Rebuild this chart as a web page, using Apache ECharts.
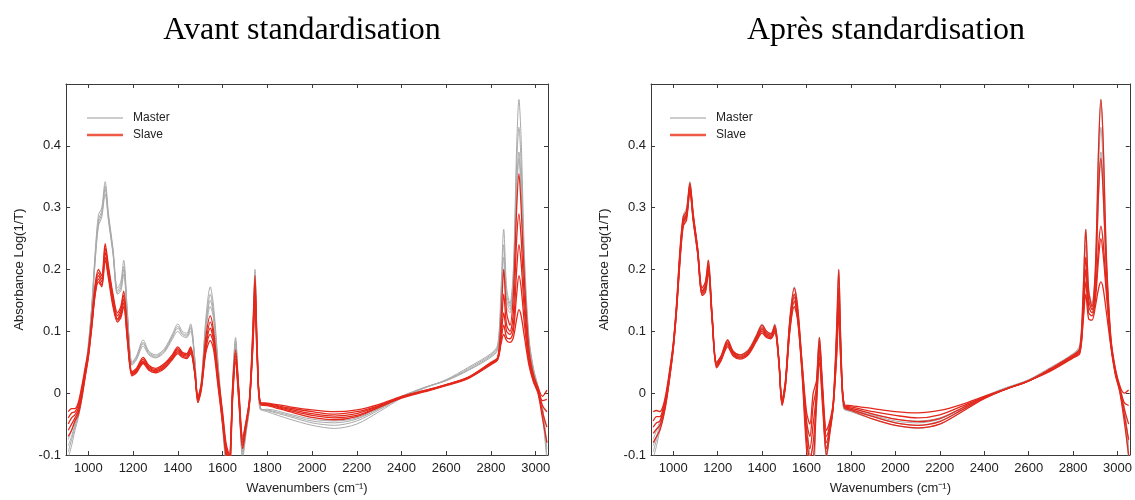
<!DOCTYPE html>
<html>
<head>
<meta charset="utf-8">
<script src="https://cdn.jsdelivr.net/npm/echarts@6/dist/echarts.min.js"></script>
<style>
html,body{margin:0;padding:0;background:#fff;}
#chart{width:1135px;height:500px;}
</style>
</head>
<body>
<div id="chart"></div>
<script>
// Wavenumbers (cm-1) at which the spectra were read
const wavenumbers = [
  910, 925, 940, 955, 970, 985, 1000, 1015, 1030, 1045, 1060, 1075, 1090, 1110, 1130,
  1145, 1158, 1175, 1195, 1215, 1245, 1270, 1300, 1340, 1375, 1400, 1420, 1440, 1457, 1475,
  1490, 1505, 1525, 1545, 1560, 1580, 1600, 1615, 1630, 1645, 1658, 1672, 1690, 1705, 1720,
  1735, 1745, 1755, 1770, 1800, 1900, 2000, 2100, 2200, 2300, 2400, 2500, 2600, 2700, 2800,
  2830, 2845, 2857, 2870, 2885, 2900, 2915, 2925, 2935, 2950, 2970, 2990, 3010, 3030, 3050
];

// Master spectra (grey)
const master1 = [
  -0.085, -0.07, -0.05, -0.03, -0.005, 0.03, 0.075, 0.14, 0.225, 0.288, 0.3, 0.342, 0.29, 0.235, 0.17,
  0.18, 0.215, 0.13, 0.05, 0.06, 0.086, 0.068, 0.062, 0.072, 0.095, 0.112, 0.1, 0.097, 0.112, 0.06,
  -0.01, 0.02, 0.12, 0.172, 0.14, 0.05, -0.04, -0.105, -0.12, 0.02, 0.09, 0.01, -0.095, -0.06, -0.02,
  0.1, 0.2, 0.08, -0.025, -0.03, -0.042, -0.052, -0.057, -0.05, -0.03, -0.008, 0.008, 0.022, 0.042, 0.064,
  0.078, 0.17, 0.265, 0.17, 0.145, 0.2, 0.4, 0.475, 0.41, 0.22, 0.09, 0.04, 0.012, -0.02, -0.09
];
const master2 = [
  -0.075, -0.06, -0.045, -0.025, 0.0, 0.035, 0.08, 0.14, 0.22, 0.28, 0.295, 0.335, 0.285, 0.23, 0.165,
  0.175, 0.205, 0.125, 0.048, 0.058, 0.082, 0.066, 0.06, 0.07, 0.092, 0.108, 0.097, 0.094, 0.108, 0.058,
  -0.012, 0.018, 0.11, 0.16, 0.13, 0.045, -0.045, -0.1, -0.11, 0.015, 0.085, 0.005, -0.09, -0.058, -0.02,
  0.09, 0.19, 0.075, -0.024, -0.028, -0.038, -0.048, -0.052, -0.045, -0.027, -0.007, 0.008, 0.021, 0.04, 0.062,
  0.075, 0.15, 0.24, 0.16, 0.14, 0.19, 0.37, 0.43, 0.37, 0.2, 0.085, 0.038, 0.01, -0.025, -0.08
];
const master3 = [
  -0.095, -0.075, -0.055, -0.035, -0.008, 0.028, 0.072, 0.135, 0.215, 0.275, 0.29, 0.33, 0.282, 0.228, 0.162,
  0.17, 0.2, 0.122, 0.046, 0.056, 0.08, 0.064, 0.058, 0.068, 0.09, 0.105, 0.095, 0.092, 0.105, 0.056,
  -0.014, 0.015, 0.105, 0.15, 0.125, 0.04, -0.05, -0.11, -0.13, 0.01, 0.08, 0.0, -0.1, -0.062, -0.022,
  0.085, 0.185, 0.07, -0.026, -0.027, -0.036, -0.045, -0.048, -0.042, -0.025, -0.006, 0.009, 0.021, 0.038, 0.06,
  0.072, 0.14, 0.22, 0.15, 0.135, 0.18, 0.34, 0.39, 0.34, 0.19, 0.082, 0.036, 0.008, -0.03, -0.1
];
const master4 = [
  -0.105, -0.085, -0.06, -0.04, -0.01, 0.025, 0.07, 0.13, 0.21, 0.27, 0.285, 0.322, 0.278, 0.225, 0.16,
  0.165, 0.192, 0.118, 0.045, 0.054, 0.076, 0.062, 0.057, 0.066, 0.087, 0.1, 0.092, 0.09, 0.1, 0.054,
  -0.016, 0.012, 0.1, 0.14, 0.12, 0.035, -0.055, -0.115, -0.14, 0.005, 0.075, -0.005, -0.105, -0.065, -0.024,
  0.08, 0.175, 0.065, -0.027, -0.026, -0.034, -0.042, -0.045, -0.04, -0.024, -0.005, 0.009, 0.02, 0.037, 0.058,
  0.07, 0.13, 0.2, 0.14, 0.13, 0.17, 0.32, 0.38, 0.32, 0.18, 0.08, 0.034, 0.006, -0.035, -0.11
];

// Slave spectra before standardisation (red, left panel)
const slaveBefore1 = [
  -0.03, -0.025, -0.025, -0.015, 0.01, 0.04, 0.07, 0.12, 0.175, 0.2, 0.19, 0.242, 0.205, 0.16, 0.13,
  0.14, 0.165, 0.1, 0.035, 0.04, 0.058, 0.045, 0.04, 0.048, 0.062, 0.075, 0.066, 0.064, 0.075, 0.04,
  -0.005, 0.015, 0.09, 0.125, 0.1, 0.03, -0.03, -0.08, -0.1, 0.01, 0.07, 0.01, -0.07, -0.045, -0.01,
  0.1, 0.19, 0.07, -0.015, -0.016, -0.022, -0.027, -0.03, -0.027, -0.018, -0.005, 0.004, 0.014, 0.026, 0.05,
  0.058, 0.12, 0.2, 0.13, 0.11, 0.16, 0.3, 0.355, 0.3, 0.18, 0.07, 0.03, 0.01, -0.005, 0.005
];
const slaveBefore2 = [
  -0.04, -0.032, -0.03, -0.02, 0.005, 0.035, 0.065, 0.115, 0.17, 0.195, 0.185, 0.235, 0.2, 0.155, 0.125,
  0.135, 0.158, 0.095, 0.033, 0.038, 0.055, 0.043, 0.038, 0.046, 0.06, 0.072, 0.064, 0.062, 0.072, 0.038,
  -0.008, 0.012, 0.08, 0.115, 0.092, 0.025, -0.035, -0.085, -0.105, 0.005, 0.065, 0.005, -0.075, -0.048, -0.012,
  0.09, 0.175, 0.065, -0.016, -0.017, -0.024, -0.03, -0.034, -0.03, -0.02, -0.006, 0.004, 0.014, 0.026, 0.049,
  0.057, 0.1, 0.16, 0.11, 0.1, 0.13, 0.25, 0.29, 0.25, 0.15, 0.06, 0.025, 0.008, -0.012, -0.01
];
const slaveBefore3 = [
  -0.05, -0.04, -0.035, -0.025, 0.0, 0.03, 0.062, 0.11, 0.165, 0.19, 0.18, 0.228, 0.195, 0.15, 0.12,
  0.13, 0.152, 0.09, 0.031, 0.036, 0.052, 0.041, 0.036, 0.044, 0.058, 0.07, 0.062, 0.06, 0.07, 0.036,
  -0.01, 0.01, 0.075, 0.105, 0.085, 0.02, -0.04, -0.09, -0.11, 0.0, 0.06, 0.0, -0.08, -0.05, -0.014,
  0.08, 0.165, 0.06, -0.017, -0.018, -0.026, -0.033, -0.037, -0.033, -0.021, -0.007, 0.003, 0.013, 0.025, 0.048,
  0.056, 0.09, 0.13, 0.1, 0.095, 0.11, 0.2, 0.24, 0.21, 0.13, 0.055, 0.022, 0.005, -0.02, -0.03
];
const slaveBefore4 = [
  -0.06, -0.05, -0.04, -0.03, -0.005, 0.027, 0.06, 0.108, 0.16, 0.185, 0.175, 0.22, 0.19, 0.145, 0.118,
  0.126, 0.146, 0.086, 0.03, 0.035, 0.05, 0.039, 0.035, 0.042, 0.056, 0.067, 0.06, 0.058, 0.067, 0.035,
  -0.012, 0.008, 0.07, 0.095, 0.08, 0.015, -0.045, -0.095, -0.12, -0.005, 0.055, -0.005, -0.085, -0.052, -0.016,
  0.075, 0.155, 0.055, -0.018, -0.019, -0.028, -0.036, -0.04, -0.036, -0.022, -0.007, 0.003, 0.013, 0.025, 0.047,
  0.055, 0.085, 0.11, 0.09, 0.088, 0.1, 0.16, 0.19, 0.17, 0.11, 0.05, 0.02, 0.002, -0.03, -0.055
];
const slaveBefore5 = [
  -0.07, -0.06, -0.045, -0.035, -0.01, 0.024, 0.058, 0.105, 0.158, 0.18, 0.172, 0.215, 0.185, 0.14, 0.115,
  0.122, 0.14, 0.082, 0.028, 0.033, 0.048, 0.037, 0.033, 0.04, 0.054, 0.064, 0.058, 0.056, 0.064, 0.033,
  -0.015, 0.005, 0.065, 0.085, 0.07, 0.01, -0.05, -0.1, -0.13, -0.01, 0.05, -0.01, -0.09, -0.055, -0.018,
  0.07, 0.145, 0.05, -0.019, -0.02, -0.03, -0.039, -0.043, -0.038, -0.023, -0.008, 0.002, 0.012, 0.024, 0.046,
  0.054, 0.08, 0.095, 0.085, 0.082, 0.09, 0.12, 0.135, 0.125, 0.09, 0.045, 0.018, 0.0, -0.04, -0.08
];

// Slave spectra after standardisation (red, right panel)
const slaveAfter1 = [
  -0.03, -0.028, -0.03, -0.02, 0.005, 0.04, 0.08, 0.145, 0.23, 0.285, 0.295, 0.34, 0.29, 0.235, 0.17,
  0.18, 0.215, 0.128, 0.05, 0.06, 0.086, 0.068, 0.062, 0.07, 0.093, 0.11, 0.1, 0.096, 0.11, 0.058,
  -0.012, 0.02, 0.12, 0.17, 0.14, 0.05, -0.03, -0.05, 0.0, 0.02, 0.09, 0.015, -0.06, -0.045, -0.015,
  0.1, 0.2, 0.075, -0.018, -0.02, -0.025, -0.03, -0.032, -0.028, -0.018, -0.005, 0.007, 0.02, 0.04, 0.062,
  0.072, 0.16, 0.265, 0.165, 0.14, 0.2, 0.4, 0.475, 0.41, 0.22, 0.09, 0.04, 0.012, 0.0, 0.005
];
const slaveAfter2 = [
  -0.045, -0.038, -0.038, -0.025, 0.0, 0.036, 0.078, 0.142, 0.225, 0.28, 0.29, 0.336, 0.287, 0.232, 0.165,
  0.175, 0.208, 0.125, 0.047, 0.058, 0.083, 0.066, 0.06, 0.068, 0.09, 0.106, 0.097, 0.094, 0.107, 0.056,
  -0.014, 0.017, 0.115, 0.16, 0.132, 0.045, -0.045, -0.07, -0.02, 0.01, 0.08, 0.005, -0.07, -0.05, -0.018,
  0.085, 0.17, 0.065, -0.02, -0.022, -0.03, -0.036, -0.04, -0.035, -0.021, -0.006, 0.007, 0.02, 0.039, 0.06,
  0.07, 0.14, 0.22, 0.15, 0.135, 0.18, 0.33, 0.38, 0.33, 0.2, 0.085, 0.036, 0.008, -0.015, -0.02
];
const slaveAfter3 = [
  -0.055, -0.048, -0.045, -0.03, -0.004, 0.033, 0.075, 0.138, 0.22, 0.278, 0.288, 0.334, 0.285, 0.23, 0.163,
  0.172, 0.204, 0.122, 0.045, 0.056, 0.08, 0.064, 0.058, 0.066, 0.088, 0.103, 0.094, 0.092, 0.104, 0.054,
  -0.016, 0.014, 0.11, 0.155, 0.127, 0.04, -0.06, -0.09, -0.05, 0.0, 0.07, 0.0, -0.08, -0.055, -0.02,
  0.07, 0.15, 0.055, -0.021, -0.024, -0.034, -0.042, -0.046, -0.041, -0.024, -0.007, 0.007, 0.02, 0.038, 0.059,
  0.068, 0.13, 0.2, 0.14, 0.13, 0.16, 0.24, 0.27, 0.245, 0.17, 0.08, 0.034, 0.006, -0.025, -0.05
];
const slaveAfter4 = [
  -0.065, -0.058, -0.052, -0.035, -0.008, 0.03, 0.072, 0.135, 0.215, 0.275, 0.285, 0.33, 0.282, 0.228, 0.16,
  0.168, 0.2, 0.12, 0.043, 0.054, 0.078, 0.062, 0.057, 0.065, 0.086, 0.1, 0.092, 0.09, 0.101, 0.052,
  -0.018, 0.012, 0.105, 0.148, 0.122, 0.035, -0.075, -0.105, -0.08, -0.01, 0.06, -0.01, -0.09, -0.06, -0.022,
  0.06, 0.135, 0.048, -0.022, -0.026, -0.038, -0.048, -0.052, -0.046, -0.027, -0.008, 0.007, 0.02, 0.037, 0.058,
  0.066, 0.12, 0.18, 0.13, 0.125, 0.15, 0.22, 0.25, 0.225, 0.16, 0.078, 0.032, 0.004, -0.035, -0.075
];
const slaveAfter5 = [
  -0.08, -0.07, -0.06, -0.04, -0.012, 0.027, 0.07, 0.132, 0.21, 0.27, 0.28, 0.326, 0.278, 0.225, 0.158,
  0.163, 0.195, 0.117, 0.041, 0.052, 0.075, 0.06, 0.055, 0.063, 0.084, 0.097, 0.09, 0.088, 0.098, 0.05,
  -0.02, 0.01, 0.1, 0.14, 0.118, 0.03, -0.09, -0.12, -0.11, -0.02, 0.05, -0.02, -0.1, -0.065, -0.024,
  0.055, 0.125, 0.045, -0.023, -0.028, -0.042, -0.052, -0.056, -0.05, -0.03, -0.009, 0.007, 0.02, 0.036, 0.057,
  0.064, 0.115, 0.16, 0.12, 0.118, 0.14, 0.17, 0.18, 0.17, 0.13, 0.075, 0.03, 0.002, -0.045, -0.1
];

const xTicks = [1000, 1200, 1400, 1600, 1800, 2000, 2200, 2400, 2600, 2800, 3000];
const yTicks = [-0.1, 0, 0.1, 0.2, 0.3, 0.4];
const panelTitles = ['Avant standardisation', 'Après standardisation'];
const legendNames = ['Master', 'Slave'];
const xName = 'Wavenumbers (cm⁻¹)';
const yName = 'Absorbance Log(1/T)';

const masters = [master1, master2, master3, master4];
const slavesBefore = [slaveBefore1, slaveBefore2, slaveBefore3, slaveBefore4, slaveBefore5];
const slavesAfter = [slaveAfter1, slaveAfter2, slaveAfter3, slaveAfter4, slaveAfter5];

const GREY = '#aaaaaa';
const RED = '#e3281c';
const SANS = '"Liberation Sans", Arial, Helvetica, sans-serif';
const AX = '#3a3a3a';

const pair = arr => wavenumbers.map((w, i) => [w, arr[i]]);

function xAxes(g) {
  const common = {
    type: 'value', gridIndex: g, min: 900, max: 3055,
    splitLine: { show: false },
    axisLine: { show: true, onZero: false, lineStyle: { color: AX, width: 1 } },
    axisTick: { show: true, inside: true, length: 4, customValues: xTicks, lineStyle: { color: AX } }
  };
  return [
    Object.assign({}, common, {
      position: 'bottom',
      axisLabel: { show: true, customValues: xTicks, formatter: v => String(v), margin: 7, fontSize: 13, color: '#222', fontFamily: SANS },
      name: xName, nameLocation: 'middle', nameGap: 27,
      nameTextStyle: { fontSize: 13, color: '#222', fontFamily: SANS }
    }),
    Object.assign({}, common, { position: 'top', axisLabel: { show: false } })
  ];
}
function yAxes(g) {
  const common = {
    type: 'value', gridIndex: g, min: -0.1, max: 0.5,
    splitLine: { show: false },
    axisLine: { show: true, onZero: false, lineStyle: { color: AX, width: 1 } },
    axisTick: { show: true, inside: true, length: 4, customValues: yTicks, lineStyle: { color: AX } }
  };
  return [
    Object.assign({}, common, {
      position: 'left',
      axisLabel: { show: true, customValues: yTicks, formatter: v => String(v), margin: 5, fontSize: 13, color: '#222', fontFamily: SANS },
      name: yName, nameLocation: 'middle', nameGap: 40, nameRotate: 90,
      nameTextStyle: { fontSize: 13, color: '#222', fontFamily: SANS }
    }),
    Object.assign({}, common, { position: 'right', axisLabel: { show: false } })
  ];
}

const series = [];
function addLines(list, name, color, width, axisIdx) {
  list.forEach(arr => series.push({
    type: 'line', name: name, data: pair(arr),
    xAxisIndex: axisIdx, yAxisIndex: axisIdx,
    showSymbol: false, symbol: 'none', smooth: 0.3,
    lineStyle: { color: color, width: width }, itemStyle: { color: color },
    clip: true, silent: true
  }));
}
addLines(masters, legendNames[0], GREY, 1, 0);
addLines(slavesBefore, legendNames[1], RED, 1.3, 0);
addLines(masters, legendNames[0], GREY, 1, 2);
addLines(slavesAfter, legendNames[1], RED, 1.3, 2);

function legendAt(left) {
  return {
    orient: 'vertical', left: left, top: 107, itemWidth: 36, itemHeight: 14, itemGap: 5,
    selectedMode: false, symbolKeepAspect: true,
    data: [
      { name: legendNames[0], icon: 'path://M0,0H36V1H0Z', itemStyle: { color: '#9a9a9a' } },
      { name: legendNames[1], icon: 'path://M0,0H36V2.4H0Z', itemStyle: { color: '#ee5a45' } }
    ],
    textStyle: { fontSize: 12, color: '#222', fontFamily: SANS, padding: [0, 0, 0, 5] }
  };
}

const chart = echarts.init(document.getElementById('chart'), null, { renderer: 'canvas' });
chart.setOption({
  animation: false,
  backgroundColor: '#fff',
  grid: [
    { left: 66, top: 84, width: 482, height: 377 },
    { left: 651, top: 84, width: 483, height: 377 }
  ],
  xAxis: xAxes(0).concat(xAxes(1)),
  yAxis: yAxes(0).concat(yAxes(1)),
  legend: [legendAt(82), legendAt(665)],
  graphic: [
    { type: 'text', x: 302, y: 31, style: { text: panelTitles[0], fill: '#000', font: '32px "Liberation Serif", "Times New Roman", serif', textAlign: 'center', verticalAlign: 'middle' } },
    { type: 'text', x: 886, y: 31, style: { text: panelTitles[1], fill: '#000', font: '32px "Liberation Serif", "Times New Roman", serif', textAlign: 'center', verticalAlign: 'middle' } }
  ],
  series: series
});
</script>
</body>
</html>
